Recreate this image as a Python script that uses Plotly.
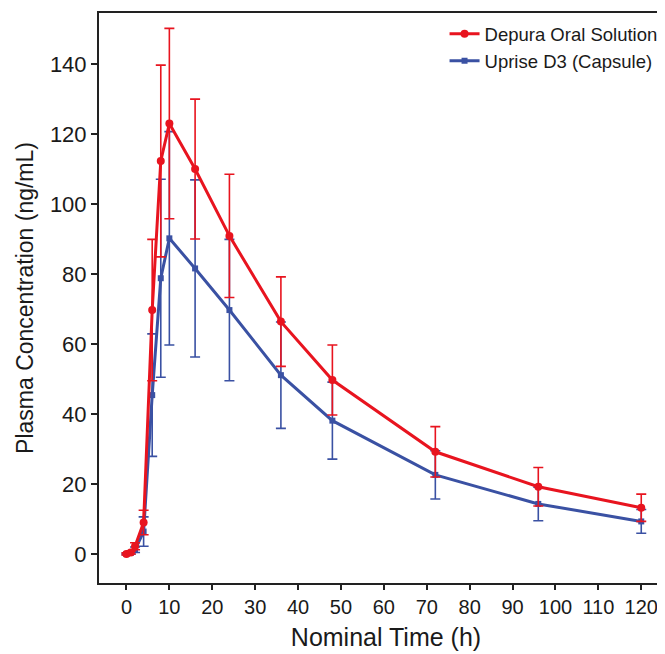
import plotly.graph_objects as go

time_h = [0, 1, 2, 4, 6, 8, 10, 16, 24, 36, 48, 72, 96, 120]

depura_mean = [0.0, 0.4, 2.2, 9.0, 69.7, 112.3, 123.0, 110.0, 90.9, 66.4, 49.7, 29.2, 19.2, 13.2]
depura_sd = [0.3, 0.4, 1.0, 3.5, 20.2, 27.4, 27.2, 20.0, 17.6, 12.8, 10.0, 7.2, 5.5, 3.9]

uprise_mean = [0.0, 0.3, 1.2, 6.4, 45.4, 78.8, 90.2, 81.6, 69.7, 51.1, 38.1, 22.6, 14.3, 9.3]
uprise_sd = [0.2, 0.3, 0.8, 4.2, 17.5, 28.3, 30.5, 25.3, 20.2, 15.2, 11.0, 6.9, 4.8, 3.4]

x_ticks = list(range(0, 121, 10))
y_ticks = list(range(0, 141, 20))

red = "#E8141F"
blue = "#3A51A3"

fig = go.Figure()
fig.add_trace(go.Scatter(
    x=time_h, y=uprise_mean, mode="lines+markers", name="Uprise D3 (Capsule)",
    legendgroup="b", legendrank=2,
    line=dict(color=blue, width=3),
    marker=dict(symbol="square", size=6, color=blue),
    error_y=dict(type="data", array=uprise_sd, visible=True, color=blue, thickness=1.6, width=5),
))
fig.add_trace(go.Scatter(
    x=time_h, y=depura_mean, mode="lines+markers", name="Depura Oral Solution",
    legendgroup="a", legendrank=1,
    line=dict(color=red, width=3),
    marker=dict(symbol="circle", size=8, color=red),
    error_y=dict(type="data", array=depura_sd, visible=True, color=red, thickness=1.6, width=5),
))

font_family = "Liberation Sans, Arial, sans-serif"
fig.update_layout(
    width=665, height=654,
    margin=dict(l=91, r=0, t=5, b=79),
    paper_bgcolor="white", plot_bgcolor="white",
    font=dict(family=font_family, color="#1a1a1a"),
    showlegend=True,
    legend=dict(x=0.602, y=0.996, xanchor="left", yanchor="top",
                font=dict(size=18.5, family=font_family), bgcolor="rgba(0,0,0,0)",
                itemwidth=30, tracegroupgap=0),
    xaxis=dict(
        range=[-6.4, 127.4], tickmode="array", tickvals=x_ticks,
        ticks="outside", ticklen=5, tickwidth=1.5, tickcolor="#222",
        showline=True, linecolor="#222", linewidth=2, mirror=True,
        showgrid=False, zeroline=False,
        tickfont=dict(size=20),
        title=dict(text="Nominal Time (h)", font=dict(size=25), standoff=11),
    ),
    yaxis=dict(
        range=[-8.3, 154.6], tickmode="array", tickvals=y_ticks,
        ticks="outside", ticklen=6, tickwidth=1.5, tickcolor="#222",
        showline=True, linecolor="#222", linewidth=2, mirror=False,
        showgrid=False, zeroline=False,
        tickfont=dict(size=22),
        title=dict(text="Plasma Concentration (ng/mL)", font=dict(size=23), standoff=10),
    ),
)

fig.write_html("out.html")
